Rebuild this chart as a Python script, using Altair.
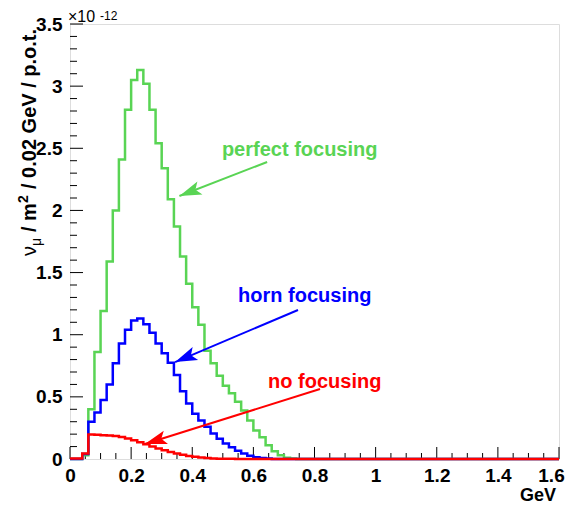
import math
import altair as alt
import pandas as pd

# ---------------- data (units of 1e-12 nu_mu / m^2 / 0.02 GeV / p.o.t.) ----------------
bin_width = 0.02
n_bins = 80
green = [0.0, 0.0, 0.03, 0.40, 0.86, 1.19, 1.59, 2.00, 2.41, 2.81,
         3.05, 3.13, 3.02, 2.81, 2.54, 2.34, 2.09, 1.87, 1.63, 1.41,
         1.22, 1.08, 0.87, 0.77, 0.67, 0.59, 0.53, 0.46, 0.39, 0.31,
         0.23, 0.176, 0.11, 0.063, 0.03, 0.01, 0.004, 0.0, 0.0, 0.0,
         0.0, 0.0, 0.0, 0.0, 0.0, 0.0, 0.0, 0.0, 0.0, 0.0,
         0.0, 0.0, 0.0, 0.0, 0.0, 0.0, 0.0, 0.0, 0.0, 0.0,
         0.0, 0.0, 0.0, 0.0, 0.0, 0.0, 0.0, 0.0, 0.0, 0.0,
         0.0, 0.0, 0.0, 0.0, 0.0, 0.0, 0.0, 0.0, 0.0, 0.0]
blue = [0.0, 0.0, 0.04, 0.30, 0.375, 0.475, 0.60, 0.77, 0.93, 1.04,
        1.115, 1.13, 1.085, 1.015, 0.93, 0.85, 0.775, 0.675, 0.545, 0.447,
        0.365, 0.31, 0.26, 0.205, 0.163, 0.125, 0.095, 0.066, 0.045, 0.027,
        0.015, 0.008, 0.004, 0.0, 0.0, 0.0, 0.0, 0.0, 0.0, 0.0,
        0.0, 0.0, 0.0, 0.0, 0.0, 0.0, 0.0, 0.0, 0.0, 0.0,
        0.0, 0.0, 0.0, 0.0, 0.0, 0.0, 0.0, 0.0, 0.0, 0.0,
        0.0, 0.0, 0.0, 0.0, 0.0, 0.0, 0.0, 0.0, 0.0, 0.0,
        0.0, 0.0, 0.0, 0.0, 0.0, 0.0, 0.0, 0.0, 0.0, 0.0]
red = [0.005, 0.005, 0.045, 0.198, 0.196, 0.192, 0.19, 0.186, 0.178, 0.165,
       0.15, 0.135, 0.118, 0.10, 0.085, 0.07, 0.056, 0.044, 0.034, 0.025,
       0.018, 0.012, 0.008, 0.005, 0.003, 0.002, 0.002, 0.001, 0.001, 0.001,
       0.0, 0.0, 0.0, 0.0, 0.0, 0.0, 0.0, 0.0, 0.0, 0.0,
       0.0, 0.0, 0.0, 0.0, 0.0, 0.0, 0.0, 0.0, 0.0, 0.0,
       0.0, 0.0, 0.0, 0.0, 0.0, 0.0, 0.0, 0.0, 0.0, 0.0,
       0.0, 0.0, 0.0, 0.0, 0.0, 0.0, 0.0, 0.0, 0.0, 0.0,
       0.0, 0.0, 0.0, 0.0, 0.0, 0.0, 0.0, 0.0, 0.0, 0.0]

series_names = ["perfect focusing", "horn focusing", "no focusing"]
series_colors = ["#59d454", "#0000ff", "#ff0000"]

x_tick_labels = [0, 0.2, 0.4, 0.6, 0.8, 1.0, 1.2, 1.4, 1.6]
y_tick_labels = [0, 0.5, 1.0, 1.5, 2.0, 2.5, 3.0, 3.5]
x_minor = [0.05, 0.1, 0.15, 0.25, 0.3, 0.35, 0.45, 0.5, 0.55, 0.65, 0.7, 0.75,
           0.85, 0.9, 0.95, 1.05, 1.1, 1.15, 1.25, 1.3, 1.35, 1.45, 1.5, 1.55]
y_minor = [0.1, 0.2, 0.3, 0.4, 0.6, 0.7, 0.8, 0.9, 1.1, 1.2, 1.3, 1.4, 1.6, 1.7,
           1.8, 1.9, 2.1, 2.2, 2.3, 2.4, 2.6, 2.7, 2.8, 2.9, 3.1, 3.2, 3.3, 3.4]

# annotation labels (left/baseline anchor, data units)
label_x = [0.497, 0.550, 0.648]
label_y = [2.44, 1.26, 0.575]
# arrows tail -> tip (data units)
arrow_x0 = [0.645, 0.746, 0.818]
arrow_y0 = [2.39, 1.199, 0.563]
arrow_x1 = [0.358, 0.344, 0.245]
arrow_y1 = [2.116, 0.780, 0.121]

# ---------------- layout ----------------
W, H = 489, 435
XMAX, YMAX = 1.6, 3.5
FONT = "Liberation Sans"

rows = []
for name, vals in zip(series_names, [green, blue, red]):
    for i in range(n_bins):
        rows.append({"s": name, "x": round(i * bin_width, 4), "y": vals[i]})
    rows.append({"s": name, "x": XMAX, "y": vals[-1]})
hist = pd.DataFrame(rows)

xs = alt.Scale(domain=[0, XMAX], nice=False, zero=False)
ys = alt.Scale(domain=[0, YMAX], nice=False, zero=False)
cs = alt.Scale(domain=series_names, range=series_colors)

xaxis = alt.Axis(values=x_tick_labels, format="~g", ticks=False, tickSize=0, domain=False,
                 grid=False, labelFont=FONT, labelFontSize=19, labelFontWeight="bold",
                 labelColor="black", labelPadding=7, labelFlush=False, labelOverlap=False,
                 labelOffset={"condition": {"test": "datum.value >= 1.6", "value": -8}, "value": 0},
                 title=None)
yaxis = alt.Axis(values=y_tick_labels, format="~g", ticks=False, tickSize=0, domain=False,
                 grid=False, labelFont=FONT, labelFontSize=19, labelFontWeight="bold",
                 labelColor="black", labelPadding=8, labelFlush=False, labelOverlap=False,
                 title=None)

lines = alt.Chart(hist).mark_line(interpolate="step-after", strokeWidth=2.5).encode(
    x=alt.X("x:Q", scale=xs, axis=xaxis),
    y=alt.Y("y:Q", scale=ys, axis=yaxis),
    color=alt.Color("s:N", scale=cs, legend=None),
    order=alt.Order("x:Q"),
)

# ROOT-style inward ticks
xmaj = alt.Chart(pd.DataFrame({"v": x_tick_labels})).mark_rule(color="black", strokeWidth=1).encode(
    x=alt.X("v:Q", scale=xs), y=alt.value(H), y2=alt.value(H - 12))
xmin = alt.Chart(pd.DataFrame({"v": x_minor})).mark_rule(color="black", strokeWidth=1).encode(
    x=alt.X("v:Q", scale=xs), y=alt.value(H), y2=alt.value(H - 6))
ymaj = alt.Chart(pd.DataFrame({"v": y_tick_labels})).mark_rule(color="black", strokeWidth=1).encode(
    y=alt.Y("v:Q", scale=ys), x=alt.value(0), x2=alt.value(13))
ymin = alt.Chart(pd.DataFrame({"v": y_minor})).mark_rule(color="black", strokeWidth=1).encode(
    y=alt.Y("v:Q", scale=ys), x=alt.value(0), x2=alt.value(7))

def screen_angle(x0, y0, x1, y1):
    dx = (x1 - x0) * W / XMAX
    dy = -(y1 - y0) * H / YMAX
    return math.degrees(math.atan2(dy, dx)) % 360

arr = pd.DataFrame({
    "s": series_names, "x0": arrow_x0, "y0": arrow_y0, "x1": arrow_x1, "y1": arrow_y1,
    "ang": [screen_angle(a, b, c, d) for a, b, c, d in zip(arrow_x0, arrow_y0, arrow_x1, arrow_y1)],
})
arrow_lines = alt.Chart(arr).mark_rule(strokeWidth=2).encode(
    x=alt.X("x0:Q", scale=xs), y=alt.Y("y0:Q", scale=ys),
    x2="x1:Q", y2="y1:Q",
    color=alt.Color("s:N", scale=cs, legend=None))
arrow_heads = alt.Chart(arr).mark_point(
    shape="M0,0L-1,-0.32L-0.78,0L-1,0.32Z", filled=True, size=1936, opacity=1, strokeWidth=0
).encode(
    x=alt.X("x1:Q", scale=xs), y=alt.Y("y1:Q", scale=ys),
    angle=alt.Angle("ang:Q", scale=None),
    color=alt.Color("s:N", scale=cs, legend=None))

labs = pd.DataFrame({"s": series_names, "x": label_x, "y": label_y})
labels = alt.Chart(labs).mark_text(align="left", baseline="alphabetic", font=FONT,
                                   fontWeight="bold", fontSize=20).encode(
    x=alt.X("x:Q", scale=xs), y=alt.Y("y:Q", scale=ys), text="s:N",
    color=alt.Color("s:N", scale=cs, legend=None))

# text pieces (pixel positions relative to the plot area)
def txt(s, x, y, size, weight="bold", angle=0, align="left", baseline="alphabetic"):
    kw = dict(align=align, baseline=baseline, font=FONT, fontSize=size,
              fontWeight=weight, color="black")
    if angle:
        kw["angle"] = angle
    return alt.Chart(pd.DataFrame({"t": [s]})).mark_text(**kw).encode(
        text="t:N", x=alt.value(x), y=alt.value(y))

OX, OY = 70, 24  # absolute position of plot origin in the page
title_parts = [
    txt("ν", 36 - OX, 256 - OY, 20, weight="normal", angle=270),
    txt("μ", 41 - OX, 246 - OY, 14, weight="normal", angle=270),
    txt("/ m", 36 - OX, 232 - OY, 20, angle=270),
    txt("2", 28 - OX, 203 - OY, 14, angle=270),
    txt("/ 0.02 GeV / p.o.t.", 36 - OX, 189 - OY, 20, angle=270),
    txt("×10", 68 - OX, 22 - OY, 16, weight="normal"),
    txt("-12", 100 - OX, 19.5 - OY, 12, weight="normal"),
    txt("GeV", 556 - OX, 501 - OY, 18, align="right"),
]

chart = alt.layer(
    xmin, xmaj, ymin, ymaj, lines, arrow_lines, arrow_heads, labels, *title_parts
).properties(
    width=W, height=H, autosize="none",
    padding={"left": 62, "top": 16, "right": 6, "bottom": 48},
).configure_view(stroke="black", strokeWidth=1).configure(background="white")

chart.save("out.html", embed_options={"renderer": "svg", "actions": False})
